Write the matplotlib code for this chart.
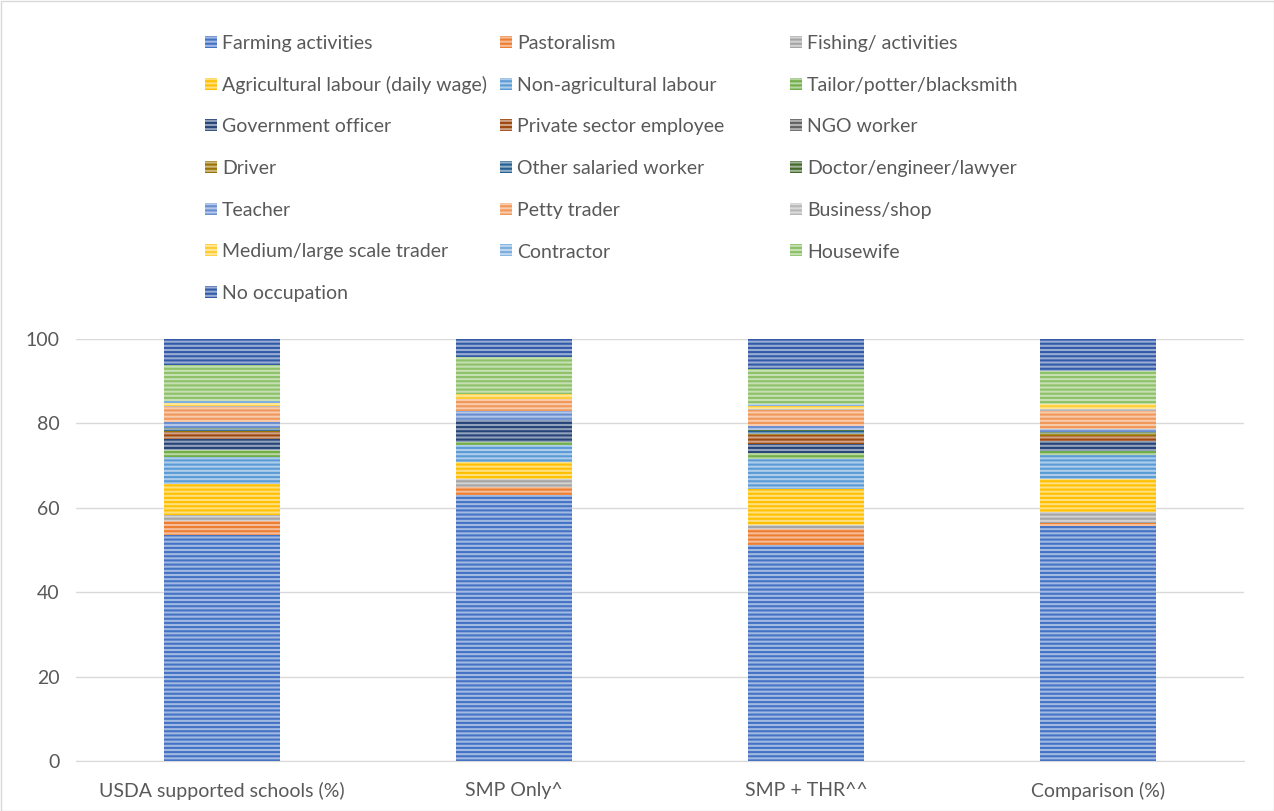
import matplotlib
matplotlib.use("Agg")
import matplotlib.pyplot as plt
from matplotlib.patches import Rectangle
import numpy as np
from matplotlib.colors import to_rgb

categories = ["USDA supported schools (%)", "SMP Only^", "SMP + THR^^", "Comparison (%)"]

series_labels = [
    "Farming activities", "Pastoralism", "Fishing/ activities",
    "Agricultural labour (daily wage)", "Non-agricultural labour", "Tailor/potter/blacksmith",
    "Government officer", "Private sector employee", "NGO worker",
    "Driver", "Other salaried worker", "Doctor/engineer/lawyer",
    "Teacher", "Petty trader", "Business/shop",
    "Medium/large scale trader", "Contractor", "Housewife",
    "No occupation",
]

farming = [53.6, 63.0, 51.2, 55.7]
pastoralism = [3.2, 2.0, 3.8, 0.8]
fishing = [1.4, 1.8, 0.9, 2.4]
ag_labour = [7.5, 4.0, 8.5, 8.0]
non_ag_labour = [6.3, 4.1, 7.1, 5.7]
tailor = [1.7, 0.8, 1.6, 0.8]
government = [2.5, 5.1, 2.1, 2.5]
private_sector = [1.8, 0.0, 2.0, 1.2]
ngo_worker = [0.0, 0.0, 0.0, 0.0]
driver = [0.1, 0.0, 0.4, 0.5]
other_salaried = [0.5, 0.0, 0.5, 0.0]
doctor = [0.4, 0.0, 0.4, 0.3]
teacher = [1.3, 2.1, 1.0, 0.8]
petty_trader = [3.7, 3.0, 3.7, 4.2]
business = [0.2, 0.0, 0.3, 0.5]
medium_trader = [0.6, 1.0, 0.6, 1.3]
contractor = [0.4, 0.0, 0.5, 0.0]
housewife = [8.7, 8.8, 8.3, 7.7]
no_occupation = [6.1, 4.3, 7.1, 7.6]

series_values = [farming, pastoralism, fishing, ag_labour, non_ag_labour, tailor,
                 government, private_sector, ngo_worker, driver, other_salaried, doctor,
                 teacher, petty_trader, business, medium_trader, contractor, housewife,
                 no_occupation]

colors = ["#4472C4", "#ED7D31", "#A5A5A5", "#FFC000", "#5B9BD5", "#70AD47",
          "#264478", "#9E480E", "#636363", "#997300", "#255E91", "#43682B",
          "#698ED0", "#F1975A", "#B7B7B7", "#FFCD33", "#7CAFDD", "#8CC168",
          "#325AA8"]

def light(c, f=0.5):
    r, g, b = to_rgb(c)
    return (r + (1 - r) * f, g + (1 - g) * f, b + (1 - b) * f)

plt.rcParams['font.family'] = ['Lato', 'DejaVu Sans']
plt.rcParams['hatch.linewidth'] = 1.5
text_color = "#595959"
fs = 14

fig = plt.figure(figsize=(12.74, 8.11), dpi=100)
W, H = 1274, 811
ax = fig.add_axes([76 / W, 1 - 761 / H, (1244 - 76) / W, (761 - 339) / H])

x = np.arange(len(categories))
bottom = np.zeros(len(categories))
for vals, c in zip(series_values, colors):
    vals = np.array(vals)
    ax.bar(x, vals, 0.4, bottom=bottom, facecolor=light(c), edgecolor=c,
           linewidth=0, hatch='----', zorder=3)
    bottom += vals

ax.set_xlim(-0.5, 3.5)
ax.set_ylim(0, 100)
ax.set_yticks(np.arange(0, 101, 20))
ax.set_xticks(x)
ax.set_xticklabels(categories)
ax.grid(axis='y', color="#D9D9D9", linewidth=1.0, zorder=0)
for s in ['top', 'right', 'left']:
    ax.spines[s].set_visible(False)
ax.spines['bottom'].set_color("#D9D9D9")
ax.tick_params(axis='both', length=0, labelsize=fs, colors=text_color)
ax.tick_params(axis='x', pad=15)
ax.tick_params(axis='y', pad=12)

# Legend (3 columns, row-major)
col_x = [205, 500, 790]
for i, (lab, c) in enumerate(zip(series_labels, colors)):
    row, col = divmod(i, 3)
    yc = 42 + row * 41.7
    xm = col_x[col]
    rect = Rectangle((xm / W, 1 - (yc + 6) / H), 12 / W, 12 / H,
                     transform=fig.transFigure, facecolor=light(c), edgecolor=c,
                     linewidth=0, hatch='----')
    fig.patches.append(rect)
    fig.text((xm + 17) / W, 1 - (yc + 1.5) / H, lab, fontsize=fs, color=text_color,
             va='center', ha='left')

border = Rectangle((0.5 / W, 0.5 / H), 1 - 1 / W, 1 - 1 / H, transform=fig.transFigure,
                   facecolor='none', edgecolor="#D9D9D9", linewidth=1)
fig.patches.append(border)

fig.savefig("out.png", dpi=100)
